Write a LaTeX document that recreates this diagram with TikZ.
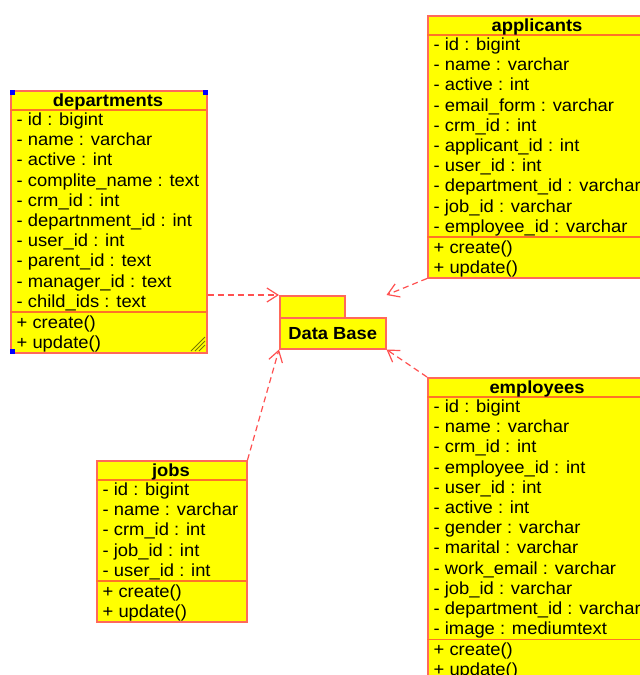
\documentclass[tikz,border=0pt]{standalone}
\usepackage{fontspec}
\setmainfont{Liberation Sans}[FakeStretch=1.05]
\usetikzlibrary{arrows.meta,calc}

\definecolor{boxfill}{RGB}{255,255,0}
\definecolor{boxline}{RGB}{255,105,90}
\definecolor{sepline}{RGB}{255,115,40}
\definecolor{linkred}{RGB}{255,80,80}
\definecolor{handle}{RGB}{0,0,255}
\definecolor{grip}{RGB}{120,120,0}

\tikzset{
  classframe/.style={draw=boxline, fill=boxfill, line width=1.5pt, inner sep=0pt},
  classsep/.style={draw=sepline, line width=1.5pt},
  classtitle/.style={font=\fontsize{17.5}{20}\selectfont\bfseries, anchor=base, inner sep=0pt},
  classmember/.style={font=\fontsize{17.5}{20}\selectfont, anchor=base west, inner sep=0pt},
  dblink/.style={draw=linkred, line width=1.2pt, dash pattern=on 6pt off 4pt,
    -{Straight Barb[length=11pt,width=14pt,line width=1.2pt]}}
}

% #1 name, #2 left x, #3 top y, #4 width, #5 number of attributes,
% #6 title, #7 attributes, #8 methods
\newcommand{\classbox}[8]{%
  \pgfmathsetmacro\cbSepA{#3+20}%
  \pgfmathsetmacro\cbSepB{#3+20+#5*20.2}%
  \pgfmathsetmacro\cbH{60+#5*20.2}%
  \node[classframe, anchor=north west, minimum width=#4pt, minimum height=\cbH pt] (#1) at (#2,#3) {};
  \draw[classsep] (#2,\cbSepA) -- ++(#4,0);
  \draw[classsep] (#2,\cbSepB) -- ++(#4,0);
  \node[classtitle] (#1-title) at ({#2+#4/2},{#3+16}) {#6};
  \foreach \a [count=\i] in {#7}
    \node[classmember] (#1-a\i) at ({#2+6.5},{\cbSepA+(\i-1)*20.2+15.5}) {\a};
  \foreach \m [count=\i] in {#8}
    \node[classmember] (#1-m\i) at ({#2+6.5},{\cbSepB+(\i-1)*20+16}) {\m};
}

\begin{document}
\begin{tikzpicture}[x=1pt,y=-1pt]
\useasboundingbox (0,0) rectangle (640,675);
\clip (0,0) rectangle (640,675);
\fill[white] (0,0) rectangle (640,675);

\classbox{departments}{10}{90}{196}{10}{departments}%
  {- id : bigint, - name : varchar, - active : int, - complite\_name : text,
   - crm\_id : int, - departnment\_id : int, - user\_id : int, - parent\_id : text,
   - manager\_id : text, - child\_ids : text}%
  {+ create(), + update()}

\classbox{applicants}{427}{15}{220}{10}{applicants}%
  {- id : bigint, - name : varchar, - active : int, - email\_form : varchar,
   - crm\_id : int, - applicant\_id : int, - user\_id : int,
   - department\_id : varchar, - job\_id : varchar, - employee\_id : varchar}%
  {+ create(), + update()}

\classbox{employees}{427}{377}{220}{12}{employees}%
  {- id : bigint, - name : varchar, - crm\_id : int, - employee\_id : int,
   - user\_id : int, - active : int, - gender : varchar, - marital : varchar,
   - work\_email : varchar, - job\_id : varchar, - department\_id : varchar,
   - image : mediumtext}%
  {+ create(), + update()}

\classbox{jobs}{96}{460}{150}{5}{jobs}%
  {- id : bigint, - name : varchar, - crm\_id : int, - job\_id : int, - user\_id : int}%
  {+ create(), + update()}

% selection handles and resize grip on the departments class
\fill[handle] (departments.north west) rectangle ++(5,5);
\fill[handle] ($(departments.north east)+(-5,0)$) rectangle ++(5,5);
\fill[handle] (departments.south west) rectangle ++(5,-5);
\foreach \d in {0,4,8}
  \draw[grip, line width=1pt] ({191+\d},351) -- (205,{337+\d});

% Data Base package
\node[classframe, anchor=north west, minimum width=65pt, minimum height=22pt] (dbtab) at (279,295) {};
\node[classframe, anchor=north west, minimum width=106pt, minimum height=31pt,
      font=\fontsize{17.5}{20}\selectfont\bfseries] (db) at (279,317) {Data Base};
\coordinate (dbNE) at (db.east |- dbtab.north);

% dependencies on the package
\draw[dblink] (departments.east |- dbtab.north) -- (dbtab.north west);
\draw[dblink] (applicants.south west) -- (dbNE);
\draw[dblink] (employees.north west) -- (db.south east);
\draw[dblink] (jobs.north east) -- (db.south west);
\end{tikzpicture}
\end{document}
